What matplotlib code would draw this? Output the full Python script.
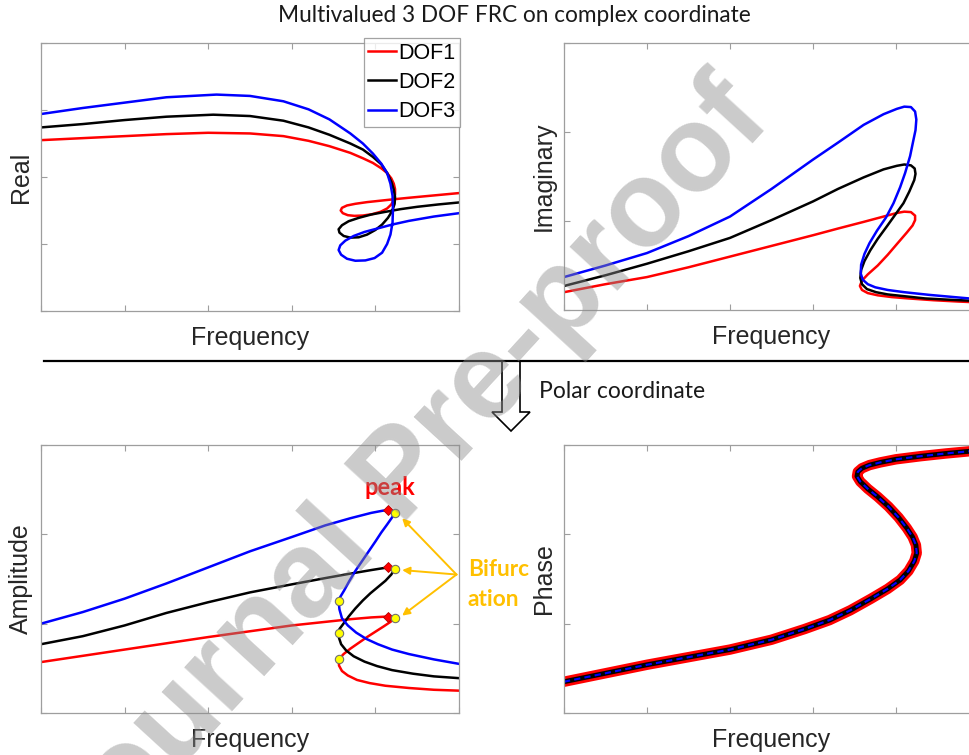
import matplotlib
matplotlib.use('Agg')
import matplotlib.pyplot as plt
from matplotlib.patches import Polygon
from matplotlib.lines import Line2D

plt.rcParams['font.family'] = 'Liberation Sans'

W, H = 969, 755
LABEL_COLOR = '#262626'
AXIS_GRAY = '0.62'

# ---- complex coordinate: real part ----
re1_f = [0.00, 0.50, 1.00, 1.50, 2.00, 2.50, 2.90, 3.20, 3.45, 3.70, 3.85, 3.97, 4.07, 4.14, 4.19,
         4.22, 4.235, 4.235, 4.22, 4.19, 4.14, 4.06, 3.96, 3.85, 3.75, 3.67, 3.61, 3.585, 3.60,
         3.66, 3.76, 3.90, 4.05, 4.20, 4.40, 4.70, 5.00]
re1 = [2.55, 2.58, 2.61, 2.64, 2.66, 2.65, 2.61, 2.54, 2.46, 2.36, 2.28, 2.21, 2.13, 2.06, 1.98,
       1.90, 1.82, 1.74, 1.66, 1.59, 1.53, 1.48, 1.445, 1.425, 1.42, 1.43, 1.46, 1.50, 1.54,
       1.575, 1.60, 1.625, 1.645, 1.665, 1.69, 1.725, 1.76]
re2_f = [0.00, 0.50, 1.00, 1.50, 2.06, 2.50, 2.90, 3.20, 3.45, 3.70, 3.85, 3.97, 4.07, 4.14, 4.19,
         4.22, 4.235, 4.23, 4.20, 4.15, 4.08, 4.00, 3.90, 3.80, 3.70, 3.62, 3.57, 3.56, 3.60,
         3.68, 3.80, 3.95, 4.12, 4.30, 4.50, 4.75, 5.00]
re2 = [2.74, 2.79, 2.85, 2.90, 2.93, 2.91, 2.84, 2.74, 2.63, 2.50, 2.41, 2.30, 2.19, 2.06, 1.93,
       1.81, 1.70, 1.60, 1.49, 1.39, 1.29, 1.21, 1.14, 1.10, 1.095, 1.12, 1.17, 1.22, 1.28,
       1.34, 1.39, 1.44, 1.48, 1.52, 1.555, 1.59, 1.62]
re3_f = [0.00, 0.50, 1.00, 1.50, 2.10, 2.50, 2.90, 3.20, 3.45, 3.70, 3.85, 3.97, 4.07, 4.14, 4.18,
         4.205, 4.21, 4.205, 4.18, 4.14, 4.08, 3.99, 3.88, 3.76, 3.66, 3.59, 3.56, 3.58, 3.64,
         3.74, 3.87, 4.02, 4.20, 4.40, 4.70, 5.00]
re3 = [2.94, 3.03, 3.11, 3.19, 3.23, 3.21, 3.13, 3.01, 2.86, 2.65, 2.50, 2.35, 2.20, 2.06, 1.90,
       1.72, 1.51, 1.32, 1.14, 1.00, 0.87, 0.79, 0.755, 0.75, 0.78, 0.84, 0.91, 0.98, 1.05,
       1.12, 1.18, 1.23, 1.29, 1.345, 1.41, 1.46]

# ---- complex coordinate: imaginary part ----
im1_f = [0.00, 0.50, 1.00, 1.50, 2.00, 2.50, 3.00, 3.30, 3.61, 3.85, 4.01, 4.10, 4.18, 4.23, 4.23,
         4.20, 4.13, 4.01, 3.90, 3.78, 3.66, 3.59, 3.565, 3.59, 3.66, 3.78, 3.95, 4.15, 4.45,
         4.75, 5.00]
im1 = [0.20, 0.29, 0.37, 0.48, 0.60, 0.72, 0.84, 0.915, 0.99, 1.05, 1.09, 1.105, 1.10, 1.06, 1.01,
       0.95, 0.87, 0.74, 0.62, 0.50, 0.40, 0.33, 0.27, 0.225, 0.19, 0.165, 0.145, 0.13, 0.11,
       0.095, 0.085]
im2_f = [0.00, 0.50, 1.00, 1.50, 2.00, 2.50, 3.00, 3.30, 3.61, 3.85, 4.01, 4.10, 4.18, 4.225, 4.235,
         4.22, 4.16, 4.09, 3.99, 3.89, 3.78, 3.69, 3.62, 3.58, 3.57, 3.59, 3.65, 3.76, 3.90, 4.10,
         4.35, 4.65, 5.00]
im2 = [0.27, 0.39, 0.52, 0.66, 0.81, 1.01, 1.22, 1.36, 1.49, 1.58, 1.62, 1.635, 1.625, 1.59, 1.53,
       1.46, 1.33, 1.20, 1.07, 0.94, 0.80, 0.67, 0.55, 0.45, 0.36, 0.29, 0.235, 0.20, 0.175,
       0.155, 0.13, 0.115, 0.10]
im3_f = [0.00, 0.50, 1.00, 1.50, 2.00, 2.50, 3.00, 3.30, 3.61, 3.85, 4.01, 4.10, 4.18, 4.23, 4.245,
         4.235, 4.21, 4.17, 4.11, 4.05, 3.97, 3.88, 3.77, 3.68, 3.62, 3.58, 3.575, 3.60, 3.66,
         3.75, 3.90, 4.10, 4.40, 4.70, 5.00]
im3 = [0.37, 0.50, 0.64, 0.83, 1.05, 1.36, 1.69, 1.88, 2.08, 2.20, 2.26, 2.285, 2.28, 2.23, 2.14,
       2.02, 1.91, 1.73, 1.54, 1.38, 1.20, 1.04, 0.89, 0.75, 0.63, 0.51, 0.41, 0.34, 0.29,
       0.255, 0.225, 0.20, 0.17, 0.145, 0.12]

# ---- polar coordinate: amplitude ----
amp1_f = [0.00, 0.50, 1.00, 1.50, 2.00, 2.50, 3.00, 3.40, 3.70, 3.95, 4.15, 4.23, 4.18, 4.10, 4.00,
          3.90, 3.80, 3.70, 3.62, 3.56, 3.565, 3.60, 3.67, 3.78, 3.93, 4.12, 4.40, 4.70, 5.00]
amp1 = [0.57, 0.64, 0.71, 0.78, 0.85, 0.915, 0.98, 1.02, 1.05, 1.07, 1.08, 1.06, 1.02, 0.97, 0.91,
        0.85, 0.785, 0.72, 0.66, 0.60, 0.53, 0.47, 0.42, 0.37, 0.335, 0.305, 0.28, 0.26, 0.25]
amp2_f = [0.00, 0.50, 1.00, 1.50, 2.00, 2.50, 3.00, 3.40, 3.70, 3.95, 4.15, 4.23, 4.19, 4.12, 4.03,
          3.94, 3.85, 3.76, 3.68, 3.61, 3.57, 3.56, 3.565, 3.59, 3.65, 3.74, 3.87, 4.02, 4.20,
          4.45, 4.70, 5.00]
amp2 = [0.77, 0.86, 0.98, 1.12, 1.24, 1.35, 1.44, 1.51, 1.56, 1.60, 1.63, 1.61, 1.55, 1.48, 1.41,
        1.34, 1.26, 1.17, 1.08, 0.99, 0.94, 0.90, 0.84, 0.77, 0.70, 0.635, 0.575, 0.525, 0.48,
        0.44, 0.41, 0.39]
amp3_f = [0.00, 0.50, 1.00, 1.50, 2.00, 2.50, 3.00, 3.40, 3.70, 3.95, 4.09, 4.15, 4.23, 4.20, 4.14,
          4.07, 4.00, 3.92, 3.84, 3.76, 3.69, 3.625, 3.58, 3.56, 3.57, 3.60, 3.67, 3.77, 3.89,
          4.03, 4.20, 4.40, 4.70, 5.00]
amp3 = [1.00, 1.13, 1.28, 1.45, 1.63, 1.81, 1.97, 2.10, 2.18, 2.24, 2.265, 2.27, 2.24, 2.19, 2.11,
        2.02, 1.92, 1.81, 1.70, 1.59, 1.48, 1.37, 1.30, 1.25, 1.16, 1.06, 0.98, 0.90, 0.83,
        0.77, 0.71, 0.66, 0.60, 0.55]

# peak amplitude and fold (bifurcation) points
peak_f = [4.15, 4.15, 4.15]
peak_amp = [1.08, 1.63, 2.27]
fold_f = [4.23, 4.23, 4.23, 3.56, 3.56, 3.56]
fold_amp = [1.06, 1.61, 2.24, 0.60, 0.90, 1.25]

# ---- polar coordinate: phase (identical for all DOFs) ----
ph_f = [0.00, 0.50, 1.00, 1.50, 2.00, 2.50, 2.90, 3.20, 3.45, 3.70, 3.90, 4.05, 4.15, 4.22, 4.25,
        4.24, 4.20, 4.13, 4.03, 3.91, 3.78, 3.66, 3.57, 3.53, 3.54, 3.59, 3.68, 3.81, 4.00,
        4.30, 4.60, 5.00]
ph = [0.35, 0.445, 0.54, 0.625, 0.71, 0.82, 0.94, 1.04, 1.15, 1.28, 1.39, 1.49, 1.59, 1.70, 1.79,
      1.88, 1.97, 2.07, 2.19, 2.31, 2.42, 2.51, 2.59, 2.65, 2.70, 2.74, 2.775, 2.805, 2.84,
      2.875, 2.905, 2.94]

dof_colors = ['#ff0000', '#000000', '#0000ff']


def fig_xy(px, py):
    return px / W, 1 - py / H


def style_axes(ax, ymax):
    ax.set_xlim(0, 5)
    ax.set_ylim(0, ymax)
    ax.set_xticks(range(6))
    ax.set_yticks(range(ymax + 1))
    ax.tick_params(direction='in', top=True, right=True, length=4, width=0.8,
                   color=AXIS_GRAY, labelbottom=False, labelleft=False)
    for sp in ax.spines.values():
        sp.set_color(AXIS_GRAY)
        sp.set_linewidth(0.9)
    ax.set_xlabel('Frequency', fontsize=18, color=LABEL_COLOR, labelpad=11)


fig = plt.figure(figsize=(W / 100, H / 100), dpi=100)

ax_re = fig.add_axes([41 / W, 1 - 311 / H, 418 / W, 268 / H])
ax_im = fig.add_axes([564 / W, 1 - 310 / H, 415 / W, 267 / H])
ax_amp = fig.add_axes([41 / W, 1 - 713 / H, 418 / W, 268 / H])
ax_ph = fig.add_axes([564 / W, 1 - 713 / H, 415 / W, 268 / H])

lw = 1.8
handles = []
for f, v, c, name in zip([re1_f, re2_f, re3_f], [re1, re2, re3], dof_colors, ['DOF1', 'DOF2', 'DOF3']):
    h, = ax_re.plot(f, v, color=c, lw=lw, label=name, solid_joinstyle='round')
    handles.append(h)
for f, v, c in zip([im1_f, im2_f, im3_f], [im1, im2, im3], dof_colors):
    ax_im.plot(f, v, color=c, lw=lw, solid_joinstyle='round')
for f, v, c in zip([amp1_f, amp2_f, amp3_f], [amp1, amp2, amp3], dof_colors):
    ax_amp.plot(f, v, color=c, lw=lw, solid_joinstyle='round')

ax_amp.plot(peak_f, peak_amp, ls='none', marker='D', ms=5.5, mfc='#ff0000', mec='#b00000', mew=0.6)
ax_amp.plot(fold_f, fold_amp, ls='none', marker='o', ms=6, mfc='#ffff00', mec='#707070', mew=0.8)

ax_ph.plot(ph_f, ph, color='#ff0000', lw=7.5, solid_joinstyle='round')
ax_ph.plot(ph_f, ph, color='#000000', lw=3.5, solid_joinstyle='round')
ax_ph.plot(ph_f, ph, color='#0000ff', lw=1.5, ls=(0, (3, 2)))

style_axes(ax_re, 4)
style_axes(ax_im, 3)
style_axes(ax_amp, 3)
style_axes(ax_ph, 3)
ax_re.set_ylabel('Real', fontsize=18, color=LABEL_COLOR, labelpad=6)
ax_im.set_ylabel('Imaginary', fontsize=18, color=LABEL_COLOR, labelpad=6)
ax_amp.set_ylabel('Amplitude', fontsize=18, color=LABEL_COLOR, labelpad=6)
ax_ph.set_ylabel('Phase', fontsize=18, color=LABEL_COLOR, labelpad=6)

leg = ax_re.legend(handles=handles, loc='upper right', bbox_to_anchor=fig_xy(460, 38),
                   bbox_transform=fig.transFigure, fontsize=15.5, frameon=True, fancybox=False,
                   handlelength=1.3, handletextpad=0.08, labelspacing=0.38, borderpad=0.22,
                   borderaxespad=0)
leg.get_frame().set_edgecolor('0.55')
leg.get_frame().set_linewidth(0.9)

# annotations on the amplitude curve
ax_amp.text(4.17, 2.52, 'peak', color='#ff0000', fontsize=17, fontweight='bold',
            family='Lato', ha='center', va='center')
orange = '#ffc000'
for ty in [2.18, 1.60, 1.09]:
    ax_amp.annotate('', xy=(4.32, ty), xytext=(4.97, 1.55),
                    arrowprops=dict(arrowstyle='-|>', color=orange, lw=1.4,
                                    mutation_scale=11, shrinkA=0, shrinkB=0),
                    annotation_clip=False)
fig.text(468 / W, 1 - 570 / H, 'Bifurc', color=orange, fontsize=16.3, fontweight='bold',
         family='Lato', ha='left', va='center')
fig.text(468 / W, 1 - 600 / H, 'ation', color=orange, fontsize=16.3, fontweight='bold',
         family='Lato', ha='left', va='center')

# title, separator and transformation arrow
fig.text(514 / W, 1 - 15 / H, 'Multivalued 3 DOF FRC on complex coordinate', fontsize=16.3,
         family='Lato', color='#1a1a1a', ha='center', va='center')
fig.add_artist(Line2D([44 / W, 1.0], [1 - 360.5 / H] * 2, transform=fig.transFigure,
                      color='black', lw=1.6))
arrow_px = [(502, 361), (502, 412), (492, 412), (511, 431), (530, 412), (520, 412), (520, 361)]
fig.add_artist(Polygon([fig_xy(x, y) for x, y in arrow_px], closed=True, transform=fig.transFigure,
                       facecolor='white', edgecolor='black', lw=1.2))
fig.text(539 / W, 1 - 392 / H, 'Polar coordinate', fontsize=16.5, family='Lato',
         color='#1a1a1a', ha='left', va='center')

# watermark
fig.text(403 / W, 1 - 478 / H, 'Journal Pre-proof', fontsize=88, fontweight='bold',
         color='0.55', alpha=0.45, rotation=47.5, rotation_mode='anchor',
         ha='center', va='center', zorder=20)

fig.savefig('out.png', dpi=100)
